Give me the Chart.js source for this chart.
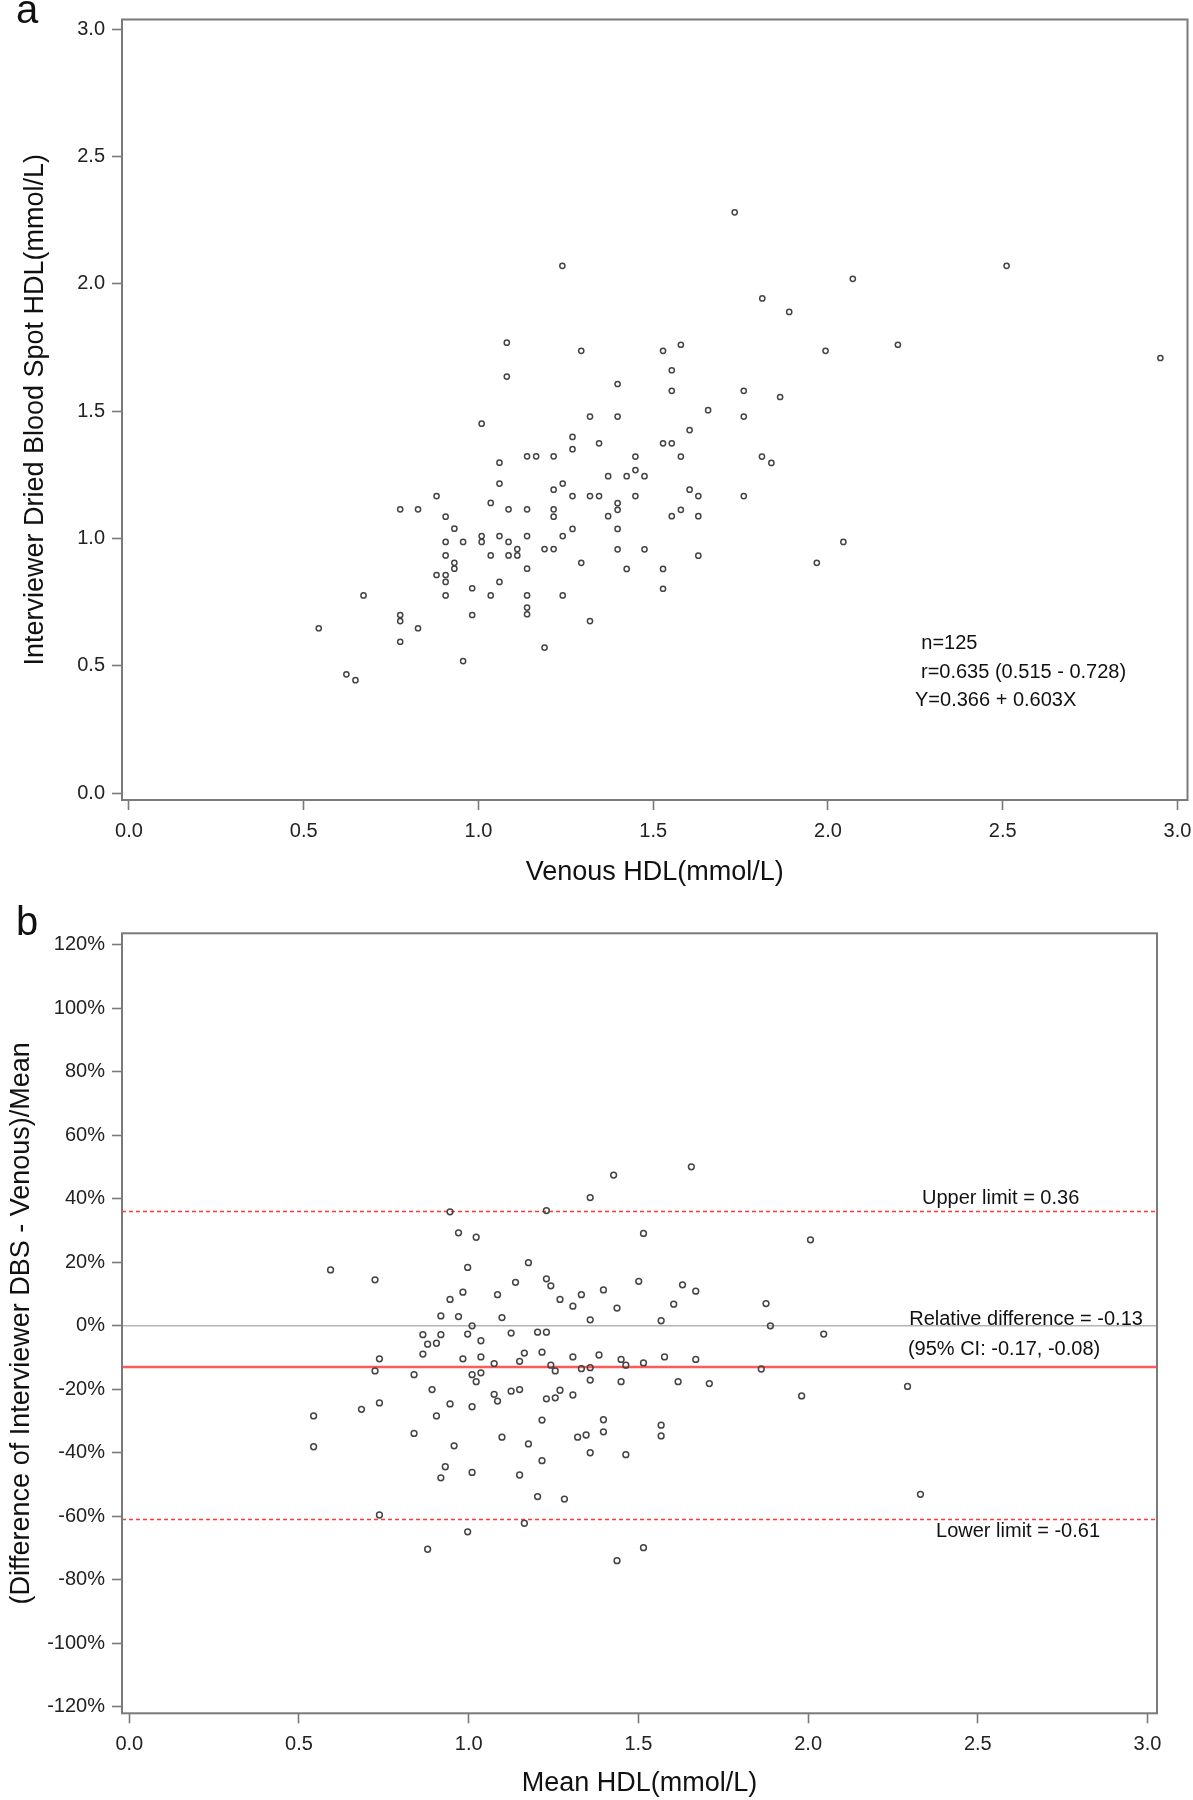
<!DOCTYPE html>
<html><head><meta charset="utf-8">
<script src="https://cdn.jsdelivr.net/npm/chart.js@4.4.1/dist/chart.umd.min.js"></script>
<style>
html,body{margin:0;padding:0;background:#fff;}
#wrap{position:relative;width:1193px;height:1800px;background:#fff;}
.c{position:absolute;left:0;width:1193px;height:900px;}
</style></head><body>
<div id="wrap">
<div class="c" style="top:0"><canvas id="ca" width="1193" height="900"></canvas></div>
<div class="c" style="top:900px"><canvas id="cb" width="1193" height="900"></canvas></div>
</div>
<script>
// ---------- Panel a: Venous HDL vs Interviewer DBS HDL ----------
const venousHDL = [
 1.139,1.165,1.215,1.060,1.060,1.241,1.215,0.880,1.035,0.776,0.827,1.086,1.139,1.215,1.215,0.906,0.931,1.009,1.009,1.060,
 1.139,1.241,0.906,0.956,1.086,1.111,1.111,1.086,1.035,0.906,1.189,1.215,0.931,0.931,0.880,0.906,0.906,1.139,1.060,0.982,
 0.671,0.906,1.035,1.139,1.241,1.139,1.139,0.776,0.776,0.982,0.543,0.827,0.776,1.189,0.956,0.622,0.648,
 1.398,1.553,1.759,1.863,1.657,1.319,1.398,1.759,1.604,1.269,1.345,1.528,1.553,1.269,1.449,1.579,1.811,1.838,1.449,1.371,
 1.424,1.475,1.604,1.269,1.319,1.345,1.449,1.629,1.759,1.398,1.398,1.371,1.553,1.579,1.629,1.269,1.398,1.398,1.475,1.294,
 1.424,1.528,1.629,1.528,1.319,
 1.733,1.240,1.812,1.889,1.294,1.528,1.579,1.993,1.553,
 2.071,2.511,2.200,2.951,2.044,1.968,
 1.081,1.081,1.009
];
const dbsHDL = [
 1.323,1.323,1.323,1.298,1.216,1.216,1.192,1.167,1.140,1.115,1.115,1.115,1.115,1.115,1.086,1.086,1.039,1.010,0.987,1.010,
 1.010,1.010,0.987,0.987,0.987,0.959,0.934,0.934,0.934,0.934,0.959,0.959,0.905,0.882,0.857,0.857,0.830,0.882,0.830,0.805,
 0.777,0.777,0.777,0.777,0.777,0.729,0.703,0.700,0.676,0.700,0.648,0.648,0.595,0.572,0.519,0.467,0.444,
 1.607,1.580,1.580,1.556,1.504,1.479,1.479,1.479,1.426,1.399,1.374,1.374,1.374,1.351,1.322,1.322,1.322,1.297,1.269,1.245,
 1.245,1.245,1.192,1.167,1.167,1.167,1.167,1.167,1.167,1.139,1.113,1.088,1.088,1.113,1.088,1.038,1.038,0.958,0.958,0.905,
 0.881,0.881,0.933,0.803,0.676,
 2.281,2.071,1.943,1.890,1.737,1.737,1.761,1.737,1.661,
 2.020,2.071,1.761,1.709,0.987,0.905,
 1.769,1.636,1.451
];
const hdlTicks = [0, 0.5, 1.0, 1.5, 2.0, 2.5, 3.0];
const statsText = ["n=125", "r=0.635 (0.515 - 0.728)", "Y=0.366 + 0.603X"];

// ---------- Panel b: Bland-Altman style ----------
const meanHDL = [
 0.945,1.229,0.970,1.022,0.593,0.724,0.997,1.176,1.138,1.229,1.242,0.983,1.085,0.945,1.269,0.918,0.970,1.098,1.010,0.865,
 0.918,0.997,1.125,1.203,1.229,0.879,0.905,1.036,0.865,0.737,0.983,1.036,1.075,1.150,1.164,1.216,1.242,1.255,0.724,0.839,
 1.010,1.036,1.022,0.892,1.075,1.085,1.125,1.150,1.229,1.255,1.269,0.684,0.737,0.945,1.010,0.543,0.905,1.216,0.839,1.098,
 0.543,0.957,1.176,1.216,0.931,0.918,1.010,1.150,1.203,1.282,0.737,1.164,0.997,0.879,
 1.656,1.427,1.358,1.515,1.501,1.630,1.669,1.397,1.332,1.307,1.437,1.604,1.876,1.358,1.567,1.889,1.307,1.384,1.332,1.358,
 1.449,1.463,1.515,1.577,1.669,1.862,1.358,1.449,1.617,1.709,1.307,1.397,1.397,1.321,1.346,1.567,1.567,1.358,1.463,1.515,
 1.437,
 2.007,2.046,1.981,2.293,2.331
];
const relDiff = [
 0.359,0.363,0.293,0.279,0.176,0.145,0.184,0.199,0.137,0.148,0.126,0.106,0.098,0.083,0.083,0.031,0.029,0.026,0.000,-0.028,
 -0.028,-0.026,-0.023,-0.020,-0.020,-0.058,-0.055,-0.047,-0.089,-0.104,-0.104,-0.098,-0.119,-0.112,-0.086,-0.083,-0.124,-0.142,-0.142,-0.154,
 -0.154,-0.148,-0.176,-0.201,-0.216,-0.237,-0.206,-0.201,-0.230,-0.227,-0.203,-0.263,-0.243,-0.246,-0.255,-0.284,-0.284,-0.297,-0.339,-0.351,
 -0.381,-0.378,-0.372,-0.425,-0.444,-0.479,-0.462,-0.470,-0.538,-0.546,-0.596,-0.622,-0.649,-0.704,
 0.501,0.475,0.404,0.291,0.140,0.129,0.109,0.113,0.098,0.062,0.056,0.068,0.070,0.019,0.016,0.000,-0.098,-0.092,-0.135,-0.132,
 -0.106,-0.124,-0.117,-0.098,-0.106,-0.136,-0.171,-0.176,-0.176,-0.182,-0.218,-0.296,-0.334,-0.351,-0.344,-0.313,-0.347,-0.400,-0.406,-0.699,
 -0.740,
 0.271,-0.026,-0.221,-0.191,-0.531
];
const pctTicks = [-1.2,-1.0,-0.8,-0.6,-0.4,-0.2,0,0.2,0.4,0.6,0.8,1.0,1.2];
const limitNames = ["Upper limit = 0.36", "Relative difference = -0.13", "Lower limit = -0.61"];
const limitValues = [0.36, -0.13, -0.61];
const ciText = "(95% CI: -0.17, -0.08)";
const zeroLine = [0];

// ---------- helpers ----------
Chart.defaults.font.family = "'Liberation Sans', Arial, Helvetica, sans-serif";
Chart.defaults.color = '#222';
const FRAME = '#7a7a7a';

const framePlugin = {
  id: 'frame',
  afterDatasetsDraw(chart) {
    const {ctx, chartArea: a} = chart;
    ctx.save();
    ctx.strokeStyle = FRAME; ctx.lineWidth = 2;
    ctx.strokeRect(a.left, a.top, a.right - a.left, a.bottom - a.top);
    ctx.restore();
  }
};
const notesPlugin = {
  id: 'notes',
  afterDraw(chart, args, opts) {
    const {ctx, scales} = chart;
    ctx.save();
    ctx.fillStyle = '#111';
    ctx.textAlign = 'left';
    ctx.textBaseline = 'middle';
    ctx.font = "20px 'Liberation Sans', Arial, sans-serif";
    (opts.items || []).forEach(it => {
      ctx.fillText(it.text, scales.x.getPixelForValue(it.x), scales.y.getPixelForValue(it.y));
    });
    if (opts.letter) {
      ctx.font = "40px 'Liberation Sans', Arial, sans-serif";
      ctx.textBaseline = 'alphabetic';
      ctx.fillText(opts.letter.text, opts.letter.px, opts.letter.py);
    }
    ctx.restore();
  }
};

function pts(xs, ys) { return xs.map((x, i) => ({x: x, y: ys[i]})); }

function axis(c) {
  return {
    type: 'linear', min: c.min, max: c.max,
    afterBuildTicks: s => { s.ticks = c.ticks.map(v => ({value: v})); },
    afterFit: s => {
      if (c.horiz) { s.height = c.size; s.paddingLeft = 0; s.paddingRight = 0; }
      else { s.width = c.size; s.paddingTop = 0; s.paddingBottom = 0; }
    },
    grid: {display: true, drawOnChartArea: false, drawTicks: true, tickLength: 10,
           tickColor: FRAME, tickWidth: 1.6, color: FRAME},
    border: {display: false},
    ticks: {color: '#222', font: {size: 20}, padding: c.tickPad, maxRotation: 0, minRotation: 0,
            autoSkip: false, callback: c.fmt},
    title: {display: true, text: c.title, color: '#111', font: {size: 27},
            padding: c.horiz ? {top: 0, bottom: c.titlePad} : {top: c.titlePad, bottom: 0}}
  };
}

// ---------- Chart a ----------
new Chart(document.getElementById('ca'), {
  type: 'scatter',
  data: {datasets: [{
    data: pts(venousHDL, dbsHDL),
    pointStyle: 'circle', pointRadius: 2.6, pointBorderWidth: 1.5,
    pointBorderColor: '#444', pointBackgroundColor: 'rgba(255,255,255,0)'
  }]},
  options: {
    responsive: false, animation: false, devicePixelRatio: 1,
    layout: {padding: {left: 0, top: 19.5, right: 4, bottom: 0}},
    plugins: {legend: {display: false}, tooltip: {enabled: false},
      notes: {items: [
        {text: statsText[0], x: 2.267, y: 0.589},
        {text: statsText[1], x: 2.266, y: 0.4735},
        {text: statsText[2], x: 2.249, y: 0.365}
      ], letter: {text: 'a', px: 16, py: 23}}
    },
    scales: {
      x: axis({horiz: true, min: -0.02, max: 3.0286, ticks: hdlTicks, size: 100, tickPad: 9,
               fmt: v => Number(v).toFixed(1), title: 'Venous HDL(mmol/L)', titlePad: 11}),
      y: axis({horiz: false, min: -0.0263, max: 3.038, ticks: hdlTicks, size: 122, tickPad: 7,
               fmt: v => Number(v).toFixed(1), title: 'Interviewer Dried Blood Spot HDL(mmol/L)', titlePad: 19})
    }
  },
  plugins: [framePlugin, notesPlugin]
});

// ---------- Chart b ----------
const bxMin = -0.0215, bxMax = 3.028;
function hline(v, color, width, dash) {
  return {data: [{x: bxMin, y: v}, {x: bxMax, y: v}], showLine: true, pointRadius: 0,
          borderColor: color, borderWidth: width, borderDash: dash, order: 2};
}
new Chart(document.getElementById('cb'), {
  type: 'scatter',
  data: {datasets: [
    hline(zeroLine[0], '#b4b4b4', 1.5, []),
    hline(limitValues[0], '#ff3a3a', 1.5, [4, 3]),
    hline(limitValues[1], '#ff5a5a', 2.4, []),
    hline(limitValues[2], '#ff3a3a', 1.5, [4, 3]),
    {data: pts(meanHDL, relDiff), order: 1,
     pointStyle: 'circle', pointRadius: 2.9, pointBorderWidth: 1.5,
     pointBorderColor: '#444', pointBackgroundColor: 'rgba(255,255,255,0)'}
  ]},
  options: {
    responsive: false, animation: false, devicePixelRatio: 1,
    layout: {padding: {left: 0, top: 33.3, right: 36, bottom: 0}},
    plugins: {legend: {display: false}, tooltip: {enabled: false},
      notes: {items: [
        {text: limitNames[0], x: 2.3356, y: 0.4026},
        {text: limitNames[1], x: 2.298, y: 0.0214},
        {text: ciText, x: 2.294, y: -0.0731},
        {text: limitNames[2], x: 2.377, y: -0.6487}
      ], letter: {text: 'b', px: 16, py: 35}}
    },
    scales: {
      x: axis({horiz: true, min: bxMin, max: bxMax, ticks: hdlTicks, size: 86.7, tickPad: 9,
               fmt: v => Number(v).toFixed(1), title: 'Mean HDL(mmol/L)', titlePad: 0}),
      y: axis({horiz: false, min: -1.2208, max: 1.2366, ticks: pctTicks, size: 122, tickPad: 7,
               fmt: v => Math.round(v * 100) + '%', title: '(Difference of Interviewer DBS - Venous)/Mean', titlePad: 5})
    }
  },
  plugins: [framePlugin, notesPlugin]
});
</script>
</body></html>
